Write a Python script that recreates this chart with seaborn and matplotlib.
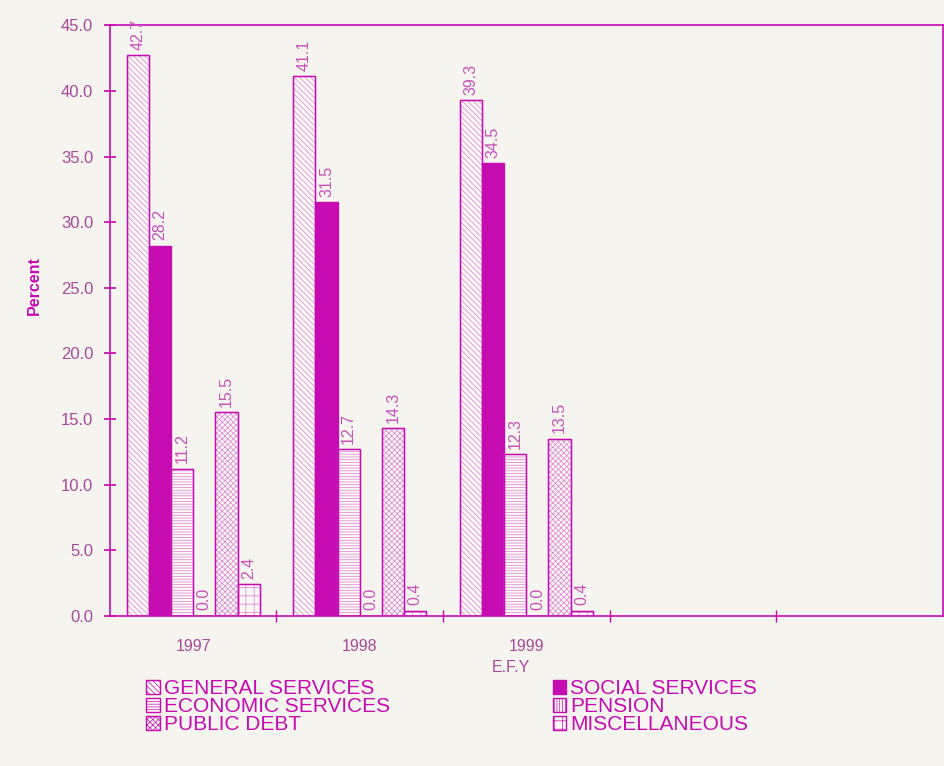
import matplotlib
matplotlib.use("Agg")
import matplotlib.pyplot as plt
from matplotlib.patches import Rectangle
import numpy as np
import pandas as pd
import seaborn as sns

# ─── Data ────────────────────────────────────────────────────────────────
years = ["1997", "1998", "1999"]
categories = [
    "GENERAL SERVICES",
    "SOCIAL SERVICES",
    "ECONOMIC SERVICES",
    "PENSION",
    "PUBLIC DEBT",
    "MISCELLANEOUS",
]
general = [42.7, 41.1, 39.3]
social = [28.2, 31.5, 34.5]
economic = [11.2, 12.7, 12.3]
pension = [0.0, 0.0, 0.0]
public_debt = [15.5, 14.3, 13.5]
misc = [2.4, 0.4, 0.4]

series = [general, social, economic, pension, public_debt, misc]
df = pd.DataFrame(
    [(y, c, v[i]) for c, v in zip(categories, series) for i, y in enumerate(years)],
    columns=["year", "category", "value"],
)

# ─── Style ───────────────────────────────────────────────────────────────
MAGENTA = "#c40cb0"
LIGHT = "#dc7ed2"
LABEL = "#c850bc"
TICK = "#a8489c"
BG = "#f6f4ee"

sns.set_theme(style="white")
plt.rcParams["font.family"] = ["Liberation Sans", "DejaVu Sans"]
plt.rcParams["hatch.linewidth"] = 0.5

hatches = ["\\\\\\\\\\\\", None, "------", "||||||", "xxxxxx", "++"]

fig = plt.figure(figsize=(9.44, 7.66), dpi=100, facecolor=BG)
ax = fig.add_axes([0.1165, 0.196, 0.882, 0.771])
ax.set_facecolor(BG)

sns.barplot(
    data=df, x="year", y="value", hue="category", order=years,
    hue_order=categories, width=0.8, ax=ax, legend=False,
    edgecolor=MAGENTA, linewidth=1.0,
)

legend_handles = {}
for cont, h, cat in zip(ax.containers, hatches, categories):
    for p in cont:
        if h is None:
            p.set_facecolor(MAGENTA)
            p.set_edgecolor(MAGENTA)
        else:
            # hatch takes the (lighter) edge colour; outline drawn on top
            p.set_facecolor("#fbf8f6")
            p.set_edgecolor(LIGHT)
            p.set_hatch(h)
            ax.add_patch(Rectangle(p.get_xy(), p.get_width(), p.get_height(),
                                   fill=False, edgecolor=MAGENTA, linewidth=1.0))
    legend_handles[cat] = Rectangle((0, 0), 1, 1,
                                    facecolor=MAGENTA if h is None else "#fbf8f6",
                                    edgecolor=MAGENTA, hatch=h, linewidth=1.0)
    ax.bar_label(cont, fmt="%.1f", rotation=90, padding=4,
                 color=LABEL, fontsize=11.5)

ax.set_xlim(-0.5, 4.5)
ax.set_ylim(0, 45)
ax.set_yticks(np.arange(0, 45.1, 5))
ax.set_yticklabels([f"{v:.1f}" for v in np.arange(0, 45.1, 5)])
ax.set_xticks(range(3))
ax.set_xticklabels(years)
ax.set_xticks(np.arange(0.5, 4.5, 1), minor=True)

ax.tick_params(axis="x", which="major", length=0, pad=17, labelsize=11.5,
               labelcolor=TICK)
ax.tick_params(axis="x", which="minor", length=8, direction="inout",
               color=MAGENTA, bottom=True)
ax.tick_params(axis="y", length=8, direction="inout", color=MAGENTA,
               left=True, labelsize=12, labelcolor=TICK, pad=8)

for s in ax.spines.values():
    s.set_color(MAGENTA)
    s.set_linewidth(1.2)
    s.set_visible(True)

ax.set_ylabel("Percent", color=MAGENTA, fontsize=11.5, fontweight="bold")
ax.yaxis.set_label_coords(-0.082, 0.56)
ax.set_xlabel("E.F.Y", color=TICK, fontsize=11.5)
ax.xaxis.set_label_coords(0.482, -0.075)

order = (0, 2, 4, 1, 3, 5)
leg = fig.legend(
    [legend_handles[categories[i]] for i in order],
    [categories[i] for i in order],
    loc="upper left", bbox_to_anchor=(0.155, 0.113),
    ncol=2, frameon=False, fontsize=15, labelspacing=-0.06,
    handlelength=0.65, handleheight=0.65, handletextpad=0.2,
    columnspacing=7.8, borderpad=0, borderaxespad=0,
)
for t in leg.get_texts():
    t.set_color(MAGENTA)

fig.savefig("out.png", dpi=100, facecolor=BG)
